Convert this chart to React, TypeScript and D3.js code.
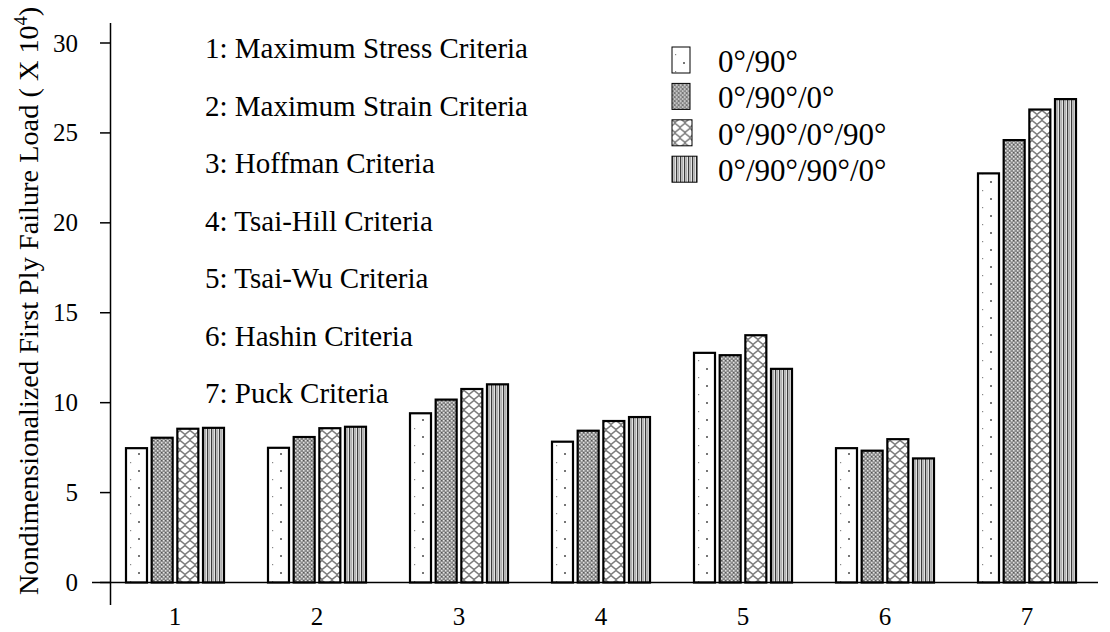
import React from "react";
import * as d3 from "d3";

const categories = ["1", "2", "3", "4", "5", "6", "7"];
const seriesNames = ["0°/90°", "0°/90°/0°", "0°/90°/0°/90°", "0°/90°/90°/0°"];
const s1 = [7.47, 7.49, 9.41, 7.83, 12.77, 7.47, 22.75];
const s2 = [8.05, 8.09, 10.17, 8.44, 12.64, 7.33, 24.6];
const s3 = [8.55, 8.58, 10.76, 8.98, 13.75, 7.97, 26.3];
const s4 = [8.6, 8.66, 11.02, 9.2, 11.88, 6.9, 26.88];
const yTicks = [0, 5, 10, 15, 20, 25, 30];
const criteria = [
  "1: Maximum Stress Criteria",
  "2: Maximum Strain Criteria",
  "3: Hoffman Criteria",
  "4: Tsai-Hill Criteria",
  "5: Tsai-Wu Criteria",
  "6: Hashin Criteria",
  "7: Puck Criteria",
];

const series = [s1, s2, s3, s4];
const patternIds = ["pDots", "pCheck", "pZig", "pStripe"];
const legendW = [18, 18, 20, 25];
const FONT = "'Liberation Serif', 'Times New Roman', serif";

export default function App() {
  const W = 1110;
  const H = 632;
  const y = d3.scaleLinear().domain([0, 30]).range([582.5, 43]);
  const x0 = d3.scaleBand<string>().domain(categories).range([104, 1098]).padding(0);
  const x1 = d3
    .scaleBand<number>()
    .domain([0, 1, 2, 3])
    .range([-49, 49])
    .paddingInner(0.182)
    .paddingOuter(0);
  const axisX = 110.5;

  return (
    <svg width={W} height={H} style={{ position: "absolute", left: 0, top: 0, background: "#fff" }}>
      <defs>
        <pattern id="pDots" patternUnits="userSpaceOnUse" width="16" height="17">
          <rect width="16" height="17" fill="#fff" />
          <rect x="3" y="3" width="1.2" height="1.2" fill="#888" />
          <rect x="11" y="11" width="2" height="2" fill="#777" />
        </pattern>
        <pattern id="pCheck" patternUnits="userSpaceOnUse" width="4" height="4">
          <rect width="4" height="4" fill="#8a8a8a" />
          <rect x="0" y="0" width="1.5" height="1.5" fill="#e0e0e0" />
          <rect x="2" y="2" width="1.5" height="1.5" fill="#e0e0e0" />
          <rect x="2" y="0" width="1" height="1" fill="#555" />
        </pattern>
        <pattern id="pZig" patternUnits="userSpaceOnUse" width="10" height="10">
          <rect width="10" height="10" fill="#fff" />
          <path
            d="M0,4.5 L5,0.5 L10,4.5 M-5,9.5 L0,5.5 L5,9.5 M5,9.5 L10,5.5 L15,9.5"
            fill="none"
            stroke="#7c7c7c"
            strokeWidth="1.6"
          />
        </pattern>
        <pattern id="pStripe" patternUnits="userSpaceOnUse" width="4" height="4">
          <rect width="4" height="4" fill="#f4f4f4" />
          <rect x="0" y="0" width="1.3" height="4" fill="#3c3c3c" />
          <rect x="2.2" y="0" width="1" height="4" fill="#a0a0a0" />
        </pattern>
      </defs>

      {/* bars */}
      {categories.map((c, ci) => (
        <g key={c} transform={`translate(${x0(c)! + x0.bandwidth() / 2},0)`}>
          {series.map((s, si) => (
            <rect
              key={si}
              x={x1(si)!}
              y={y(s[ci])}
              width={x1.bandwidth()}
              height={y(0) - y(s[ci])}
              fill={`url(#${patternIds[si]})`}
              stroke="#000"
              strokeWidth={2.2}
            />
          ))}
        </g>
      ))}

      {/* axes */}
      <line x1={92} x2={1098} y1={y(0)} y2={y(0)} stroke="#000" strokeWidth={1.6} />
      <line x1={axisX} x2={axisX} y1={23} y2={605} stroke="#000" strokeWidth={1.5} />
      {yTicks.map((t) => (
        <g key={t}>
          <line x1={100} x2={axisX} y1={y(t)} y2={y(t)} stroke="#000" strokeWidth={1.5} />
          <text
            x={78}
            y={y(t) + 8.5}
            textAnchor="end"
            fontFamily={FONT}
            fontSize={25}
            fill="#000"
          >
            {t}
          </text>
        </g>
      ))}
      {categories.map((c) => (
        <text
          key={c}
          x={x0(c)! + x0.bandwidth() / 2}
          y={625}
          textAnchor="middle"
          fontFamily={FONT}
          fontSize={25}
          fill="#000"
        >
          {c}
        </text>
      ))}

      {/* y label */}
      <text
        transform="translate(38,301) rotate(-90)"
        textAnchor="middle"
        fontFamily={FONT}
        fontSize={28.3}
        fill="#000"
      >
        Nondimensionalized First Ply Failure Load ( X  10
        <tspan fontSize={18} dy={-11}>4</tspan>
        <tspan dy={11}>)</tspan>
      </text>

      {/* criteria annotation */}
      {criteria.map((t, i) => (
        <text key={t} x={205} y={58 + i * 57.5} fontFamily={FONT} fontSize={29} fill="#000">
          {t}
        </text>
      ))}

      {/* legend */}
      {seriesNames.map((n, i) => (
        <g key={n} transform={`translate(0,${i * 36.4})`}>
          <rect
            x={672}
            y={47}
            width={legendW[i]}
            height={26}
            fill={`url(#${patternIds[i]})`}
            stroke="#000"
            strokeWidth={1}
          />
          <text x={718} y={72} fontFamily={FONT} fontSize={31} fill="#000">
            {n}
          </text>
        </g>
      ))}
    </svg>
  );
}
